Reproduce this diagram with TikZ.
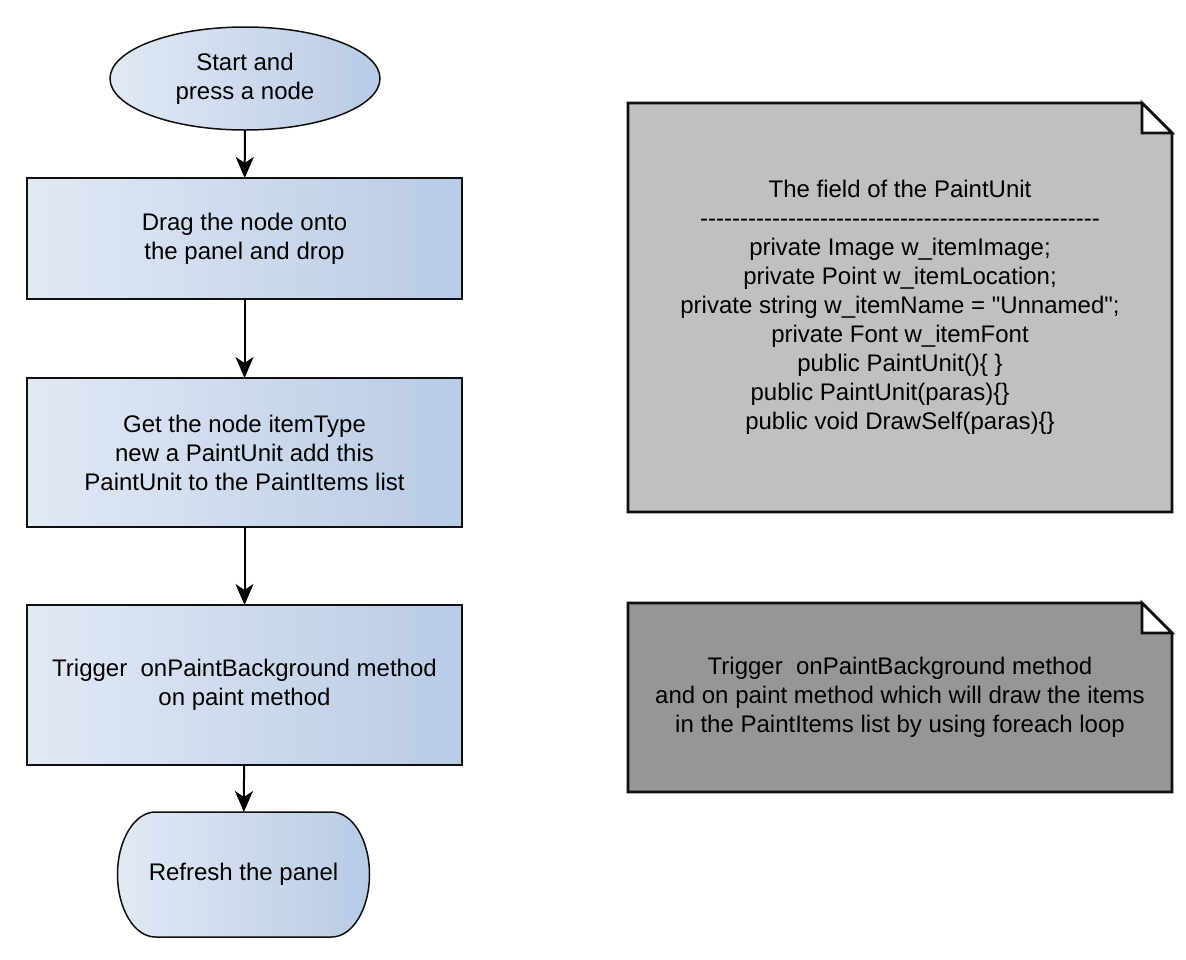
\documentclass[tikz,border=0pt]{standalone}
\usepackage{fontspec}
\setmainfont{Liberation Sans}[Ligatures=TeXOff]
\usetikzlibrary{shapes.geometric,arrows.meta,backgrounds}
\definecolor{boxL}{RGB}{226,233,245}
\definecolor{boxR}{RGB}{184,203,229}
\definecolor{noteA}{RGB}{192,192,192}
\definecolor{noteB}{RGB}{150,150,150}
\definecolor{edge}{RGB}{15,15,15}
\begin{document}
\begin{tikzpicture}[x=1pt,y=-1pt,
  every node/.style={font=\fontsize{24}{29}\selectfont, align=center, inner sep=0pt, outer sep=0pt},
  flow/.style={left color=boxL,right color=boxR,draw=edge},
  procbox/.style={flow,rectangle,line width=2pt,minimum width=435pt,minimum height=#1},
  startshape/.style={flow,ellipse,line width=1.5pt,minimum width=270pt,minimum height=103pt},
  termshape/.style={rectangle,minimum width=253pt,minimum height=125pt},
  notebox/.style={rectangle,minimum width=544pt,minimum height=#1},
  noteline/.style={draw=edge,line width=2.6pt,line join=miter},
  flowarrow/.style={-{Stealth[length=21pt,width=18pt,inset=6pt]},line width=2pt,draw=black}
]
\useasboundingbox (0,0) rectangle (1186,959);

\node[startshape] (start) at (245,78.5) {Start and\\press a node};
\node[procbox=121pt] (b1) at (244.5,238.5) {Drag the node onto\\the panel and drop};
\node[procbox=149pt] (b2) at (244.5,452.5) {Get the node itemType\\new a PaintUnit add this\\PaintUnit to the PaintItems list};
\node[procbox=160pt] (b3) at (244.5,685) {Trigger\ \ onPaintBackground method\\on paint method};
\node[termshape] (end) at (243.5,874.5) {Refresh the panel};

\draw[flowarrow] (start) -- (b1);
\draw[flowarrow] (b1) -- (b2);
\draw[flowarrow] (b2) -- (b3);
\draw[flowarrow] (b3) -- (end);

\node[notebox=409pt] (n1) at (900,307.5) {The field of the PaintUnit\\
--------------------------------------------------\\
private Image w\_itemImage;\\
private Point w\_itemLocation;\\
private string w\_itemName = "Unnamed";\\
private Font w\_itemFont\\
public PaintUnit()\{ \}\\
public PaintUnit(paras)\{\}\hspace*{40pt}\mbox{}\\
public void DrawSelf(paras)\{\}};

\node[notebox=189pt] (n2) at (900,697.5) {Trigger\ \ onPaintBackground method\\
and on paint method which will draw the items\\
in the PaintItems list by using foreach loop};

\begin{scope}[on background layer]
\path[flow,line width=1.5pt] (155.5,812) -- (331.5,812)
  arc[start angle=-90, end angle=90, x radius=38, y radius=62.5]
  -- (155.5,937)
  arc[start angle=90, end angle=270, x radius=38, y radius=62.5] -- cycle;
\draw[noteline,fill=noteA] (n1.north west) -- ([xshift=-30pt]n1.north east) -- ([yshift=-30pt]n1.north east) -- (n1.south east) -- (n1.south west) -- cycle;
\draw[noteline,fill=white] ([xshift=-30pt]n1.north east) -- ([yshift=-30pt]n1.north east) -- ([xshift=-30pt,yshift=-30pt]n1.north east) -- cycle;
\draw[noteline,fill=noteB] (n2.north west) -- ([xshift=-30pt]n2.north east) -- ([yshift=-30pt]n2.north east) -- (n2.south east) -- (n2.south west) -- cycle;
\draw[noteline,fill=white] ([xshift=-30pt]n2.north east) -- ([yshift=-30pt]n2.north east) -- ([xshift=-30pt,yshift=-30pt]n2.north east) -- cycle;
\end{scope}
\end{tikzpicture}
\end{document}
